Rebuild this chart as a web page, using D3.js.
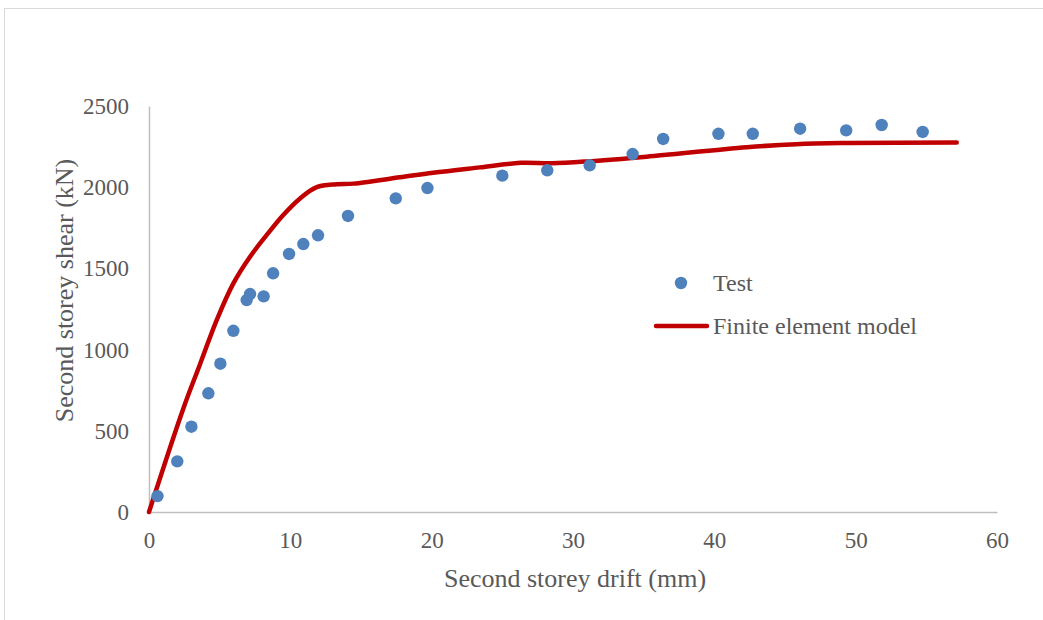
<!DOCTYPE html>
<html><head><meta charset="utf-8">
<script src="https://cdn.jsdelivr.net/npm/d3@7"></script>
<style>body{margin:0;background:#fff}svg{display:block}</style>
</head><body>
<script>
const testDrift = [0.6, 2.0, 3.0, 4.2, 5.05, 5.97, 6.91, 7.15, 8.11, 8.78, 9.91, 10.92, 11.96, 14.08, 17.46, 19.7, 25.0, 28.18, 31.18, 34.22, 36.38, 40.29, 42.72, 46.07, 49.33, 51.84, 54.74];
const testShear = [98, 312, 525, 731, 913, 1116, 1305, 1342, 1328, 1470, 1589, 1650, 1704, 1823, 1931, 1995, 2071, 2104, 2135, 2204, 2297, 2329, 2329, 2360, 2350, 2383, 2340];
const feDrift = [0, 2.43, 3.61, 4.79, 5.97, 7.15, 8.33, 9.5, 10.69, 11.87, 13.28, 14.46, 17.76, 20.1, 23.4, 26.3, 28.5, 31.2, 35.2, 42.3, 45.8, 49.4, 57.15];
const feShear = [0, 638, 910, 1182, 1408, 1572, 1706, 1829, 1931, 2000, 2018, 2022, 2061, 2089, 2122, 2150, 2147, 2160, 2188, 2246, 2265, 2272, 2276];
const xTicks = [0, 10, 20, 30, 40, 50, 60];
const yTicks = [0, 500, 1000, 1500, 2000, 2500];
const seriesNames = ["Test", "Finite element model"];

const W = 1043, H = 620;
const svg = d3.select("body").append("svg").attr("width", W).attr("height", H);
const font = "'Liberation Serif', 'Times New Roman', serif";
const grey = "#595959";

svg.append("rect").attr("x", 4.5).attr("y", 8.5).attr("width", W + 10).attr("height", H)
  .attr("fill", "#fff").attr("stroke", "#d9d9d9").attr("stroke-width", 1);

const x = d3.scaleLinear().domain([0, 60]).range([149, 997]);
const y = d3.scaleLinear().domain([0, 2500]).range([512, 106]);

// axes
const xAxis = svg.append("g").attr("transform", `translate(0,${y(0)})`)
  .call(d3.axisBottom(x).tickValues(xTicks).tickSize(0).tickPadding(19).tickFormat(d3.format("d")));
const yAxis = svg.append("g").attr("transform", `translate(${x(0)},0)`)
  .call(d3.axisLeft(y).tickValues(yTicks).tickSize(0).tickPadding(19).tickFormat(d3.format("d")));
[xAxis, yAxis].forEach(g => {
  g.select(".domain").attr("stroke", "#bfbfbf").attr("stroke-width", 1.5);
  g.selectAll("text").attr("font-family", font).attr("font-size", 23).attr("fill", grey);
});
yAxis.selectAll("text").attr("dy", "0.33em").attr("x", -20);
xAxis.selectAll("text").attr("dy", 0).attr("y", 36);

// FE line
const line = d3.line().x((d, i) => x(feDrift[i])).y((d, i) => y(feShear[i])).curve(d3.curveCatmullRom.alpha(0.5));
svg.append("path").datum(feDrift).attr("d", line).attr("fill", "none")
  .attr("stroke", "#c00000").attr("stroke-width", 4.5).attr("stroke-linecap", "round").attr("stroke-linejoin", "round");

// test points
svg.append("g").selectAll("circle").data(testDrift).join("circle")
  .attr("cx", d => x(d)).attr("cy", (d, i) => y(testShear[i])).attr("r", 6.2).attr("fill", "#4f81bd");

// axis titles
svg.append("text").attr("x", 575).attr("y", 587).attr("text-anchor", "middle")
  .attr("font-family", font).attr("font-size", 26).attr("fill", grey).text("Second storey drift (mm)");
svg.append("text").attr("transform", `translate(73,${(148 + 433) / 2}) rotate(-90)`).attr("text-anchor", "middle")
  .attr("font-family", font).attr("font-size", 26).attr("fill", grey).text("Second storey shear (kN)");

// legend
const lg = svg.append("g");
lg.append("circle").attr("cx", 681).attr("cy", 283).attr("r", 6.2).attr("fill", "#4f81bd");
lg.append("text").attr("x", 713).attr("y", 291).attr("font-family", font).attr("font-size", 24).attr("fill", grey).text(seriesNames[0]);
lg.append("line").attr("x1", 656).attr("x2", 707).attr("y1", 326).attr("y2", 326)
  .attr("stroke", "#c00000").attr("stroke-width", 4.5).attr("stroke-linecap", "round");
lg.append("text").attr("x", 713).attr("y", 334).attr("font-family", font).attr("font-size", 24).attr("fill", grey).text(seriesNames[1]);
</script>
</body></html>
